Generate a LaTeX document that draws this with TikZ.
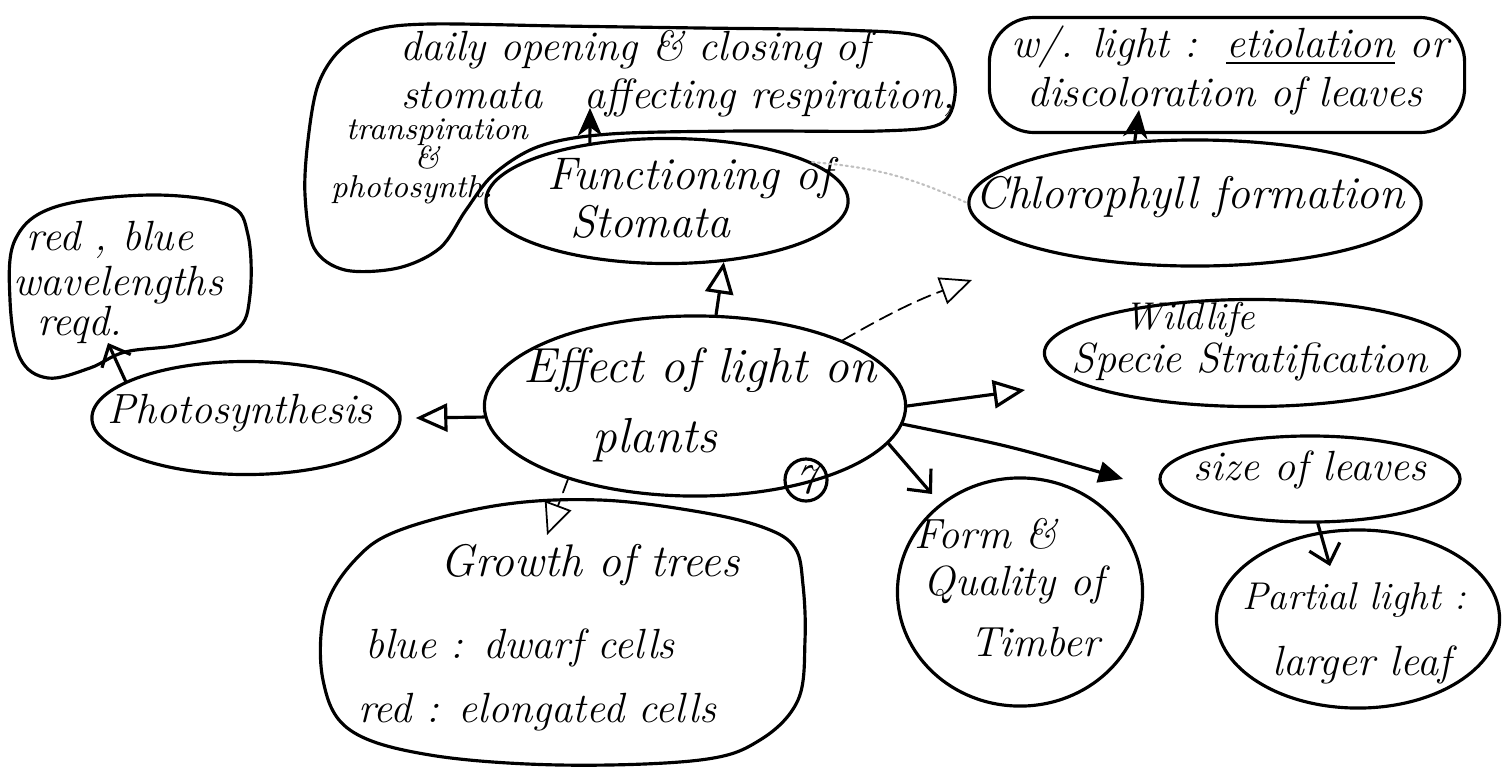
\documentclass[tikz,border=0pt]{standalone}
\usetikzlibrary{shapes.geometric,arrows.meta,calc}
\begin{document}
\begin{tikzpicture}[x=0.01cm,y=-0.01cm,line width=0.9pt,line cap=round,line join=round,
  bub/.style={draw,ellipse,inner sep=0pt},
  hw/.style={font=\itshape\fontsize{#1}{#1}\selectfont,inner sep=0pt},
  hw/.default=12,
  tri/.style={-{Triangle[open,length=9pt,width=8pt]}},
  barb/.style={-{Straight Barb[length=5pt,width=9pt]}},
  stl/.style={-{Stealth[length=8pt,width=7pt]}},
  faint/.style={dash pattern=on 4pt off 2pt,line width=0.5pt}]
\useasboundingbox (0,0) rectangle (1503,775);

% central topic
\node[bub,minimum width=4.21cm,minimum height=1.8cm] (eff) at (695,406) {};
\node[hw=14] (eff1) at (700,370) {Effect of light on};
\node[hw=14] (eff2) at (655,440) {plants};
\node[draw,circle,minimum size=0.42cm,inner sep=0pt,font=\itshape\fontsize{12}{12}\selectfont] (num) at (806,480) {7};

% stomata
\node[bub,minimum width=3.62cm,minimum height=1.25cm] (func) at (667,201) {};
\node[hw=13] (func1) at (690,178) {Functioning of};
\node[hw=13] (func2) at (650,222) {Stomata};

\draw plot[smooth cycle,tension=0.55] coordinates {(430,24) (560,26) (700,28) (840,30) (920,36) (948,60) (955,95) (940,124) (880,131) (740,131) (610,134) (540,146) (494,174) (466,210) (440,248) (398,268) (345,270) (314,248) (305,195) (308,140) (318,85) (340,50) (375,30)};
\node[hw] (d1) at (635,50) {daily opening \& closing of};
\node[hw] (d2) at (678,98) {stomata\quad affecting respiration,};
\node[hw=9] (d3) at (437,132) {transpiration};
\node[hw=9] (d4) at (427,158) {\&};
\node[hw=9] (d5) at (412,190) {photosynth.};
\coordinate (dtip) at (590,108);
\draw[stl] (func.143) -- (dtip);

% chlorophyll
\node[bub,minimum width=4.52cm,minimum height=1.26cm] (chl) at (1195,203) {};
\node[hw=13] (chl1) at (1190,197) {Chlorophyll formation};
\node[draw,rounded corners=0.45cm,minimum width=4.75cm,minimum height=1.15cm] (wl) at (1227,75) {};
\node[hw] (wl1) at (1230,47) {w/. light :\ \ \underline{etiolation} or};
\node[hw] (wl2) at (1225,96) {discoloration of leaves};
\coordinate (wtip) at (1139,110);
\draw[stl] (chl.134) -- (wtip);

% photosynthesis
\draw plot[smooth cycle,tension=0.6] coordinates {(15,240) (55,207) (150,195) (228,205) (248,235) (250,295) (236,330) (180,345) (125,352) (90,368) (48,378) (20,358) (10,300)};
\node[hw] (r1) at (110,240) {red , blue};
\node[hw] (r2) at (118,285) {wavelengths};
\node[hw] (r3) at (80,325) {reqd.};
\node[bub,minimum width=3.08cm,minimum height=1.13cm] (pho) at (246,418) {};
\node[hw] (pho1) at (240,413) {Photosynthesis};
\coordinate (rtip) at (108,343);
\draw[barb] (pho.163) -- (rtip);

% growth of trees
\draw plot[smooth cycle,tension=0.6] coordinates {(400,530) (500,505) (600,500) (700,512) (765,528) (795,548) (803,585) (805,640) (798,700) (760,740) (700,760) (560,765) (430,755) (350,730) (323,680) (325,610) (355,560)};
\node[hw=13] (g1) at (590,565) {Growth of trees};
\node[hw] (g2) at (520,648) {blue : dwarf cells};
\node[hw] (g3) at (537,712) {red : elongated cells};

% right-hand branches
\node[bub,minimum width=2.45cm,minimum height=2.28cm] (frm) at (1020,592) {};
\node[hw] (f1) at (986,534) {Form \&};
\node[hw] (f2) at (1014,585) {Quality of};
\node[hw] (f3) at (1035,642) {Timber};

\node[bub,minimum width=4.15cm,minimum height=1.07cm] (wild) at (1252,353) {};
\node[hw=11] (w1) at (1190,320) {Wildlife};
\node[hw] (w2) at (1250,362) {Specie Stratification};

\node[bub,minimum width=3.0cm,minimum height=0.86cm] (size) at (1310,479) {};
\node[hw] (s1) at (1310,470) {size of leaves};

\node[bub,minimum width=2.83cm,minimum height=1.78cm] (part) at (1358,619) {};
\node[hw=11] (p1) at (1354,600) {Partial light :};
\node[hw] (p2) at (1362,665) {larger leaf};

% connectors from the central topic
\draw[tri] (eff.77) -- (func.-47);
\draw[tri] (eff.183) -- ([xshift=4]pho.east);
\coordinate (gtip) at (547,535);
\draw[tri,faint] (eff.-150) -- (gtip);
\coordinate (ctip) at (972,280);
\draw[tri,faint] (eff.24) to[bend left=5] (ctip);
\coordinate (wdtip) at (1025,390);
\draw[tri] (eff.east) -- (wdtip);
\draw[-{Triangle[length=7pt,width=6pt]}] (eff.-5) .. controls (1010,446) .. ([xshift=-10]size.west);
\coordinate (ftip) at (932,494);
\draw[barb] (eff.-11) -- (ftip);
\coordinate (ptip) at (1330,566);
\draw[barb] (size.-80) -- (ptip);

% stray trace between the upper branches
\draw[gray!50,densely dotted,line width=0.6pt] (func.15) to[bend left=10] (chl.west);
\end{tikzpicture}
\end{document}
